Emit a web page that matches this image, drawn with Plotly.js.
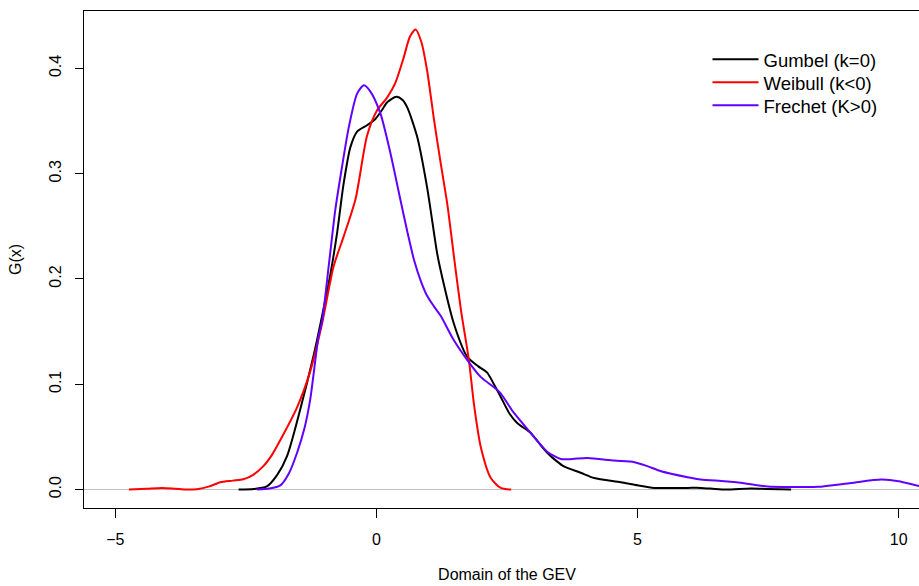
<!DOCTYPE html>
<html>
<head>
<meta charset="utf-8">
<script src="https://cdn.plot.ly/plotly-3.0.1.min.js"></script>
<style>
html,body{margin:0;padding:0;overflow:hidden;background:#fff;width:919px;height:586px;}
#chart{width:950px;height:586px;}
</style>
</head>
<body>
<div id="chart"></div>
<script>
// Gumbel (k=0)
const gumbelX = [-2.64,-2.35,-2.10,-1.90,-1.71,-1.46,-1.20,-1.07,-0.88,-0.75,-0.63,-0.50,-0.37,-0.18,-0.02,0.10,0.21,0.38,0.50,0.59,0.78,0.97,1.16,1.23,1.48,1.74,1.95,2.12,2.25,2.38,2.55,2.70,2.95,3.10,3.27,3.45,3.59,3.91,4.17,4.68,5.00,5.32,5.96,6.21,6.66,7.17,7.50,7.94];
const gumbelY = [0,0.0005,0.003,0.014,0.032,0.076,0.128,0.158,0.205,0.245,0.290,0.325,0.340,0.346,0.352,0.360,0.368,0.373,0.370,0.363,0.335,0.287,0.225,0.208,0.158,0.126,0.117,0.111,0.100,0.088,0.072,0.063,0.054,0.045,0.035,0.027,0.022,0.016,0.011,0.007,0.004,0.0016,0.0016,0.0016,0.0,0.001,0.0005,0];

// Weibull (k<0)
const weibullX = [-4.74,-4.40,-4.11,-3.85,-3.63,-3.44,-3.20,-2.99,-2.75,-2.55,-2.36,-2.17,-2.00,-1.84,-1.52,-1.27,-1.04,-0.82,-0.63,-0.40,-0.18,0.01,0.20,0.36,0.52,0.64,0.75,0.86,0.97,1.10,1.23,1.36,1.50,1.62,1.77,1.87,2.00,2.19,2.38,2.58];
const weibullY = [0,0.0008,0.0016,0.0008,0.0,0.0004,0.003,0.007,0.0085,0.0098,0.014,0.022,0.033,0.047,0.078,0.112,0.158,0.212,0.240,0.276,0.336,0.360,0.372,0.386,0.410,0.430,0.437,0.425,0.398,0.352,0.310,0.270,0.215,0.170,0.123,0.080,0.040,0.011,0.0016,0];

// Frechet (K>0)
const frechetX = [-2.29,-2.05,-1.84,-1.68,-1.52,-1.38,-1.27,-1.11,-1.04,-0.91,-0.79,-0.69,-0.53,-0.37,-0.24,-0.115,0.077,0.27,0.46,0.60,0.72,0.85,0.97,1.10,1.23,1.48,1.74,1.995,2.35,2.63,2.95,3.27,3.53,3.75,4.04,4.55,4.94,5.20,5.45,5.96,6.21,6.60,6.85,7.49,8.00,8.45,9.09,9.67,10.00,10.42,10.60];
const frechetY = [0,0.001,0.004,0.015,0.035,0.058,0.085,0.145,0.160,0.214,0.265,0.297,0.344,0.376,0.384,0.378,0.357,0.319,0.275,0.243,0.218,0.198,0.184,0.174,0.165,0.142,0.123,0.107,0.093,0.073,0.054,0.036,0.029,0.029,0.030,0.0275,0.026,0.022,0.0174,0.0117,0.0095,0.0082,0.0073,0.003,0.0025,0.0026,0.0063,0.0095,0.008,0.003,0.002];

const seriesNames = ["Gumbel (k=0)", "Weibull (k<0)", "Frechet (K>0)"];
const xTicks = [-5, 0, 5, 10];
const yTicks = [0.0, 0.1, 0.2, 0.3, 0.4];
const yTickText = ["0.0", "0.1", "0.2", "0.3", "0.4"];
const xTickText = ["\u22125", "0", "5", "10"];

const FONT = "Liberation Sans, Arial, Helvetica, sans-serif";

const traces = [
  {x: gumbelX, y: gumbelY, name: seriesNames[0], legend: "legend", mode: "lines", line: {color: "#000000", width: 2, shape: "spline", smoothing: 0.7}},
  {x: weibullX, y: weibullY, name: seriesNames[1], legend: "legend2", mode: "lines", line: {color: "#FF0000", width: 2, shape: "spline", smoothing: 0.7}},
  {x: frechetX, y: frechetY, name: seriesNames[2], legend: "legend3", mode: "lines", line: {color: "#6200FF", width: 2, shape: "spline", smoothing: 0.7}}
];

function legendAt(y) {
  return {
    x: 0.737, y: y, xanchor: "left", yanchor: "top",
    font: {family: FONT, size: 18.5, color: "#000"},
    itemwidth: 46,
    bgcolor: "rgba(0,0,0,0)", borderwidth: 0
  };
}

const layout = {
  width: 950, height: 586,
  margin: {l: 84, r: 20, t: 11, b: 78},
  paper_bgcolor: "#ffffff", plot_bgcolor: "#ffffff",
  font: {family: FONT, size: 16, color: "#000000"},
  showlegend: true,
  legend: legendAt(0.940),
  legend2: legendAt(0.8938),
  legend3: legendAt(0.8475),
  xaxis: {
    range: [-5.6, 10.6], tickvals: xTicks, ticktext: xTickText,
    showgrid: false, zeroline: false,
    showline: true, mirror: true, linecolor: "#000", linewidth: 1,
    ticks: "outside", ticklen: 9, tickcolor: "#000", tickwidth: 1,
    ticklabelstandoff: 8,
    tickfont: {family: FONT, size: 16, color: "#000"},
    title: {text: "Domain of the GEV", font: {family: FONT, size: 16, color: "#000"}, standoff: 21}
  },
  yaxis: {
    range: [-0.0175, 0.4545], tickvals: yTicks, ticktext: yTickText, tickangle: -90,
    showgrid: false, zeroline: false,
    showline: true, mirror: true, linecolor: "#000", linewidth: 1,
    ticks: "outside", ticklen: 8, tickcolor: "#000", tickwidth: 1,
    ticklabelstandoff: 8,
    tickfont: {family: FONT, size: 16, color: "#000"},
    title: {text: "G(x)", font: {family: FONT, size: 16, color: "#000"}, standoff: 20}
  },
  shapes: [
    {type: "line", xref: "paper", x0: 0, x1: 1, yref: "y", y0: 0, y1: 0, line: {color: "#BEBEBE", width: 1}, layer: "below"}
  ]
};

Plotly.newPlot("chart", traces, layout, {displayModeBar: false, staticPlot: true});
</script>
</body>
</html>
